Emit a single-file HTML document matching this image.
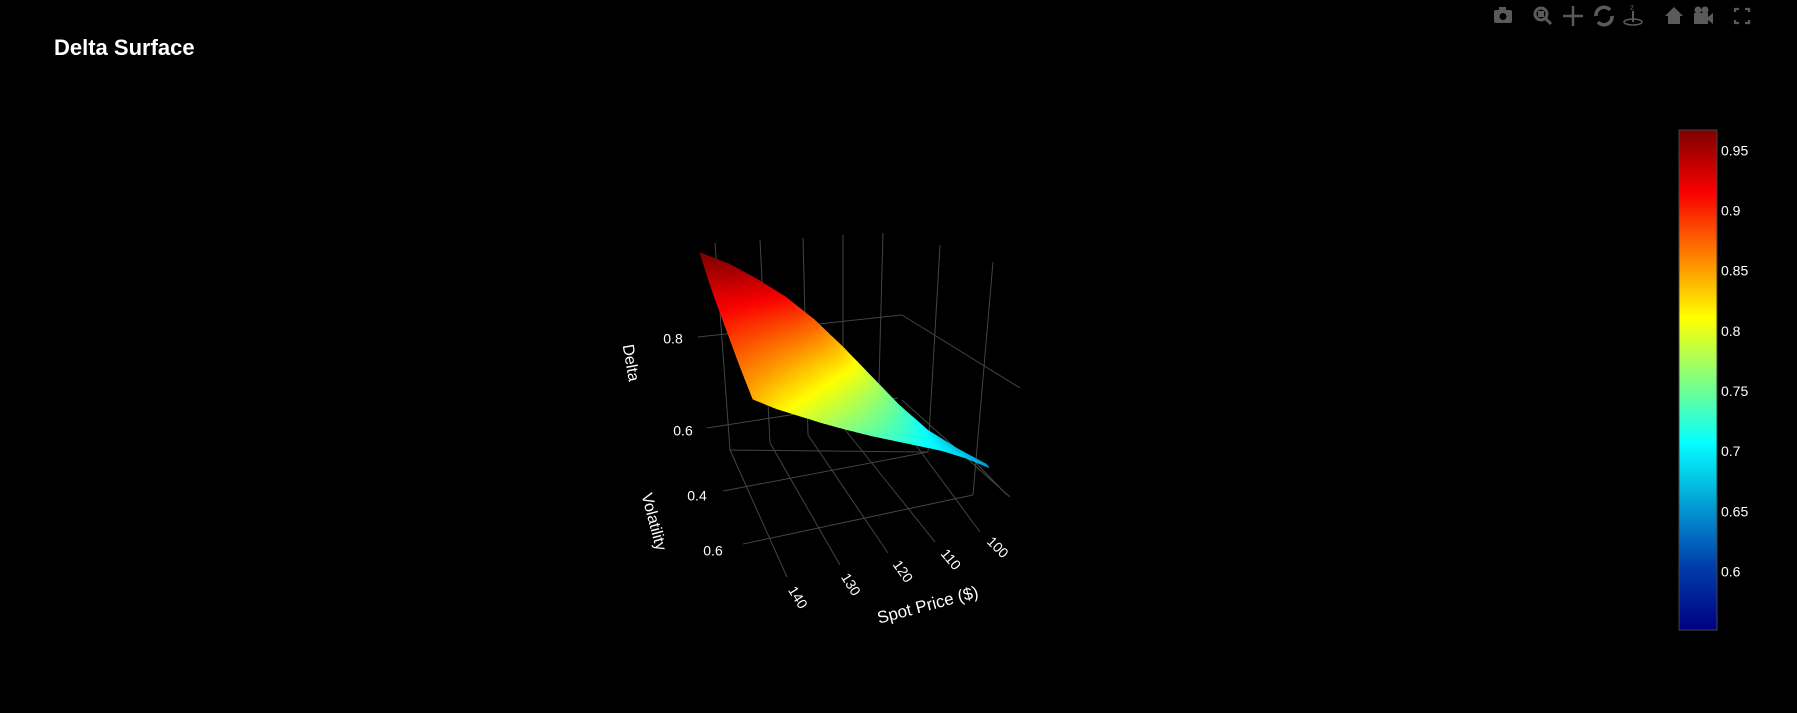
<!DOCTYPE html>
<html><head><meta charset="utf-8"><style>
html,body{margin:0;padding:0;background:#000;}
body{width:1797px;height:708px;overflow:hidden;font-family:"Liberation Sans",sans-serif;}
svg text{font-family:"Liberation Sans",sans-serif;fill:#fff;}
</style></head><body>
<svg id="chart" width="1797" height="708" viewBox="0 0 1797 708" xmlns="http://www.w3.org/2000/svg">
<rect width="1797" height="708" fill="#000"/>
<text x="54" y="55" font-size="22" font-weight="bold">Delta Surface</text>
<g id="modebar" fill="#5a5a5a" stroke="#5a5a5a">
  <g><rect x="1494" y="10" width="18" height="13" rx="2" stroke="none"/><rect x="1499" y="7" width="7" height="4" stroke="none"/><circle cx="1503" cy="16.5" r="3.5" fill="#000" stroke="none"/></g>
  <g><circle cx="1541" cy="14" r="6" fill="none" stroke-width="3"/><rect x="1538" y="11" width="6" height="6" stroke="none"/><line x1="1545" y1="18" x2="1551" y2="24" stroke-width="3"/></g>
  <g stroke-width="2.5"><line x1="1573" y1="6" x2="1573" y2="26"/><line x1="1563" y1="16" x2="1583" y2="16"/></g>
  <g><path d="M1596 16 A8 8 0 0 1 1610 10" fill="none" stroke-width="3.5"/><path d="M1612 16 A8 8 0 0 1 1598 22" fill="none" stroke-width="3.5"/></g>
  <g><ellipse cx="1633" cy="22" rx="9" ry="3" fill="none" stroke-width="1.5"/><line x1="1633" y1="11" x2="1633" y2="22" stroke-width="2"/><text x="1630" y="10" font-size="8" style="fill:#5a5a5a" stroke="none">z</text></g>
  <g stroke="none"><polygon points="1665,16 1674,7 1683,16 1680,16 1680,24 1668,24 1668,16"/></g>
  <g stroke="none"><rect x="1694" y="13" width="14" height="11"/><polygon points="1708,17 1713,13 1713,24 1708,20"/><circle cx="1698" cy="10" r="3.5"/><circle cx="1705" cy="10" r="3.5"/></g>
  <g fill="none" stroke-width="2.2"><path d="M1735 12V9h4M1745 9h4v3M1749 20v3h-4M1739 23h-4v-3"/></g>
</g>
<g id="scene"></g>
<g id="colorbar"></g>
</svg>
<script>
// ---- data ----
const spots = [100,105,110,115,120,125,130,135,140,145,150];
const vols = [0.2,0.3,0.4,0.5,0.6];
const deltaVol20 = [0.65,0.67,0.695,0.735,0.785,0.835,0.88,0.915,0.94,0.96,0.97];
const deltaVol30 = [0.652,0.673,0.697,0.735,0.775,0.815,0.85,0.88,0.90,0.918,0.93];
const deltaVol40 = [0.653,0.675,0.698,0.727,0.757,0.787,0.817,0.845,0.867,0.885,0.90];
const deltaVol50 = [0.654,0.678,0.699,0.72,0.743,0.767,0.79,0.813,0.835,0.855,0.87];
const deltaVol60 = [0.655,0.68,0.70,0.715,0.73,0.745,0.762,0.78,0.80,0.82,0.845];
const deltaGrid = [deltaVol20,deltaVol30,deltaVol40,deltaVol50,deltaVol60];
const colorTicks = [0.6,0.65,0.7,0.75,0.8,0.85,0.9,0.95];
const cmin = 0.5525, cmax = 0.968;

const NS="http://www.w3.org/2000/svg";
function mk(tag,attrs,parent){const e=document.createElementNS(NS,tag);for(const k in attrs)e.setAttribute(k,attrs[k]);parent.appendChild(e);return e;}

const jet=[[0,[0,0,131]],[0.125,[0,60,170]],[0.375,[5,255,255]],[0.625,[255,255,0]],[0.875,[250,0,0]],[1,[128,0,0]]];
function color(v){let t=(v-cmin)/(cmax-cmin);t=Math.max(0,Math.min(1,t));
  for(let i=1;i<jet.length;i++){if(t<=jet[i][0]){const a=jet[i-1],b=jet[i];const f=(t-a[0])/(b[0]-a[0]);
    const c=a[1].map((x,j)=>Math.round(x+(b[1][j]-x)*f));return `rgb(${c[0]},${c[1]},${c[2]})`;}}
  return 'rgb(128,0,0)';}

const sMin=100,sMax=150,vMin=0.2,vMax=0.6;
const fl={lowS_lowV:[985,487],highS_lowV:[700,425],lowS_highV:[989,493],highS_highV:[753,513]};
function proj(s,v,d){const u=(s-sMin)/(sMax-sMin),w=(v-vMin)/(vMax-vMin);
  const a=fl.lowS_lowV,b=fl.highS_lowV,c=fl.lowS_highV,e=fl.highS_highV;
  const x=(1-u)*(1-w)*a[0]+u*(1-w)*b[0]+(1-u)*w*c[0]+u*w*e[0];
  const y=(1-u)*(1-w)*a[1]+u*(1-w)*b[1]+(1-u)*w*c[1]+u*w*e[1];
  return [x,y-(d-0.6)*465];}

const scene=document.getElementById('scene');
const grid=mk('g',{stroke:'#444','stroke-width':1,fill:'none'},scene);


const lines=[[715,243,730,450],[760,240,770,443],[803,238,808,435],[843,235,843,427],[883,233,878,420],[940,245,928,452],[993,262,973,495],
 [698,337,902,315],[902,315,1020,388],[707,428,898,398],[902,400,1010,497],
 [730,450,787,577],[770,443,840,565],[808,435,888,553],[843,427,935,542],[890,410,980,532],[973,460,1007,495],
 [723,491,928,452],[743,544,973,495],[730,450,928,452]];
lines.forEach(l=>{mk('line',{x1:l[0],y1:l[1],x2:l[2],y2:l[3]},grid);});

const surf=mk('g',{},scene);


const SUB=8;
function bil(i,j,fu,fw){const d00=deltaGrid[j][i],d10=deltaGrid[j][i+1],d01=deltaGrid[j+1][i],d11=deltaGrid[j+1][i+1];
  return (1-fu)*(1-fw)*d00+fu*(1-fw)*d10+(1-fu)*fw*d01+fu*fw*d11;}
for(let j=0;j<vols.length-1;j++){for(let i=0;i<spots.length-1;i++){
  for(let a=0;a<SUB;a++)for(let b=0;b<SUB;b++){
    const pts=[[a,b],[a+1,b],[a+1,b+1],[a,b+1]].map(([p,q])=>{const fu=p/SUB,fw=q/SUB;
      const s=spots[i]+(spots[i+1]-spots[i])*fu,v=vols[j]+(vols[j+1]-vols[j])*fw;return proj(s,v,bil(i,j,fu,fw));});
    const col=color(bil(i,j,(a+0.5)/SUB,(b+0.5)/SUB));
    const p=mk('polygon',{points:pts.map(q=>q[0].toFixed(1)+','+q[1].toFixed(1)).join(' '),fill:col,stroke:col,'stroke-width':0.8},surf);
    
    
  }}}

const lab=mk('g',{},scene);


function txt(x,y,s,size,rot,name){const t=mk('text',{x:x,y:y,'font-size':size,'text-anchor':'middle','dominant-baseline':'middle',transform:rot?`rotate(${rot} ${x} ${y})`:''},lab);t.textContent=s;
  
  }
txt(673,340,'0.8',14,0,'z-tick-0.8');
txt(683,432,'0.6',14,0,'z-tick-0.6');
txt(697,497,'0.4',14,0,'y-tick-0.4');
txt(713,552,'0.6',14,0,'y-tick-0.6');
txt(630,363,'Delta',16,80,'z-axis-title');
txt(653,522,'Volatility',16,75,'y-axis-title');
txt(797,598,'140',14,58,'x-tick-140');
txt(850,585,'130',14,58,'x-tick-130');
txt(902,572,'120',14,55,'x-tick-120');
txt(950,560,'110',14,50,'x-tick-110');
txt(997,548,'100',14,45,'x-tick-100');
txt(928,606,'Spot Price ($)',17,-15,'x-axis-title');

const cb=document.getElementById('colorbar');
const defs=mk('defs',{},cb);
const lg=mk('linearGradient',{id:'jetg',x1:0,y1:1,x2:0,y2:0},defs);
jet.forEach(s=>{mk('stop',{offset:s[0],'stop-color':`rgb(${s[1].join(',')})`},lg);});
const cbTop=130,cbBot=630;
const bar=mk('rect',{x:1679,y:cbTop,width:38,height:cbBot-cbTop,fill:'url(#jetg)',stroke:'#444','stroke-width':1},cb);


colorTicks.forEach(v=>{const y=cbBot-(v-cmin)/(cmax-cmin)*(cbBot-cbTop);
  const t=mk('text',{x:1721,y:y,'font-size':14,'dominant-baseline':'middle'},cb);t.textContent=String(v);
  
  });
</script>
</body></html>
